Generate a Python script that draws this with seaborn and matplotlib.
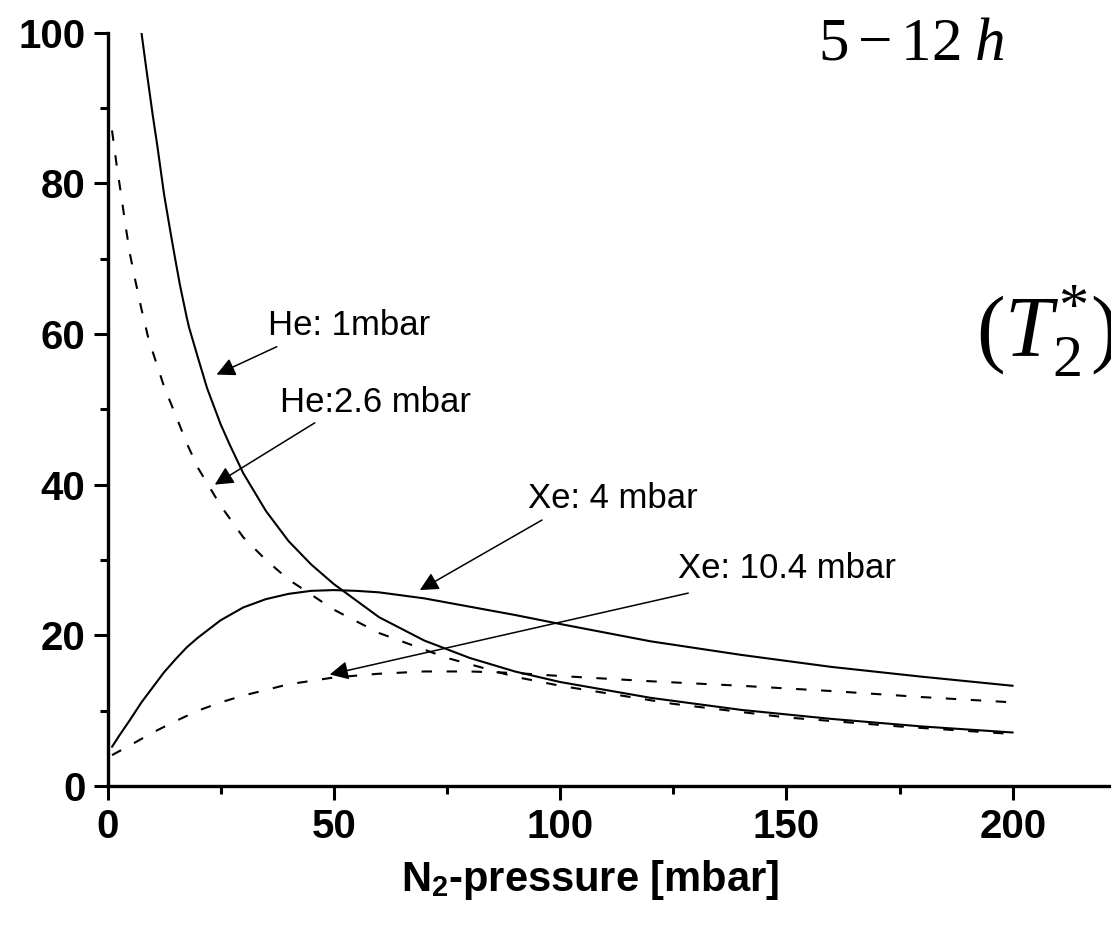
import numpy as np
import pandas as pd
import matplotlib
matplotlib.use("Agg")
import matplotlib.pyplot as plt
import seaborn as sns

# curves (x = N2 pressure in mbar)
he1_x = [7.5, 8.5, 10, 11, 12.5, 14, 15, 16, 17.5, 18, 20, 22, 25, 27, 30, 35, 40, 45, 50, 60, 70, 80, 90, 100, 120, 140, 160, 180, 200]
he1_y = [100, 95.5, 89, 85, 78.5, 73.2, 69.8, 66.5, 62.2, 60.9, 56.8, 52.8, 48.0, 45.3, 41.5, 36.5, 32.5, 29.4, 26.8, 22.4, 19.3, 17.0, 15.2, 13.8, 11.7, 10.1, 8.9, 7.9, 7.1]

he26_x = [1, 2, 3, 4, 5, 6, 7.5, 9, 10, 12.5, 15, 17.5, 20, 25, 30, 35, 40, 50, 60, 75, 90, 100, 125, 150, 175, 200]
he26_y = [87, 82.5, 78.5, 74.3, 70.5, 67.5, 63.3, 59.5, 57.6, 53, 49.3, 45.5, 42.2, 37.2, 33.0, 30.0, 27.4, 23.4, 20.3, 17.0, 14.5, 13.3, 10.9, 9.1, 7.9, 6.9]

xe4_x = [1, 2.5, 5, 7.5, 10, 12.5, 15, 17.5, 20, 25, 30, 35, 40, 45, 50, 55, 60, 70, 80, 90, 100, 120, 140, 160, 180, 200]
xe4_y = [5.2, 6.6, 8.8, 11.1, 13.1, 15.1, 16.8, 18.4, 19.7, 22.0, 23.7, 24.8, 25.5, 25.9, 26.0, 25.9, 25.7, 24.9, 23.8, 22.7, 21.5, 19.2, 17.4, 15.8, 14.5, 13.3]

xe104_x = [1, 5, 10, 15, 20, 25, 30, 40, 50, 60, 70, 80, 90, 100, 120, 140, 160, 180, 200]
xe104_y = [4.1, 5.4, 7.1, 8.6, 10.0, 11.1, 12.0, 13.5, 14.4, 14.9, 15.2, 15.2, 15.0, 14.6, 13.9, 13.3, 12.6, 11.8, 11.1]

# annotation labels: text, text anchor, arrow tail, arrow tip
labels = ["He: 1mbar", "He:2.6 mbar", "Xe: 4 mbar", "Xe: 10.4 mbar"]
label_pos = [(35.4, 59.9), (38.1, 49.7), (92.9, 36.9), (126.0, 27.6)]
arrow_tail = [(37.4, 58.3), (45.8, 48.2), (96.0, 35.3), (128.3, 25.6)]
arrow_tip = [(24.1, 54.6), (23.7, 40.0), (69.0, 26.0), (49.1, 14.8)]

x_ticks = [0, 50, 100, 150, 200]
y_ticks = [0, 20, 40, 60, 80, 100]

sns.set_theme(style="ticks")
plt.rcParams["font.family"] = ["Liberation Sans", "DejaVu Sans"]
plt.rcParams["mathtext.fontset"] = "custom"
plt.rcParams["mathtext.rm"] = "Liberation Serif"
plt.rcParams["mathtext.it"] = "Liberation Serif:italic"
plt.rcParams["mathtext.bf"] = "Liberation Sans:bold"
plt.rcParams["text.color"] = "black"
plt.rcParams["axes.labelcolor"] = "black"

W, H = 1111, 926
fig = plt.figure(figsize=(W / 100, H / 100), dpi=100)
ax = fig.add_axes([107.5 / W, 1 - 786 / H, 1 - 107.5 / W, (786 - 32.5) / H])

curves = [(he1_x, he1_y, "-"), (he26_x, he26_y, (0, (5, 7))),
          (xe4_x, xe4_y, "-"), (xe104_x, xe104_y, (0, (5, 7)))]
for cx, cy, ls in curves:
    df = pd.DataFrame({"p": cx, "v": cy})
    sns.lineplot(data=df, x="p", y="v", ax=ax, color="black", lw=1.5,
                 linestyle=ls, errorbar=None)

for txt, pos, tail, tip in zip(labels, label_pos, arrow_tail, arrow_tip):
    ax.text(pos[0], pos[1], txt, fontsize=25, va="baseline", ha="left", color="black")
    ax.annotate("", xy=tip, xytext=tail,
                arrowprops=dict(arrowstyle="-|>", color="black", lw=1.1,
                                mutation_scale=28, shrinkA=0, shrinkB=0))

ax.set_xlim(0, 221.7)
ax.set_ylim(0, 100)
ax.set_xticks(x_ticks)
ax.set_yticks(y_ticks)
ax.set_xticks([25, 75, 125, 175], minor=True)
ax.set_yticks([10, 30, 50, 70, 90], minor=True)
ax.set_xticklabels([str(t) for t in x_ticks], fontsize=29, fontweight="bold")
ax.set_yticklabels([str(t) for t in y_ticks], fontsize=29, fontweight="bold")
ax.tick_params(which="major", length=10, width=2.2, color="black", labelcolor="black", pad=6)
ax.tick_params(which="minor", length=5.5, width=2.2, color="black")
ax.set_xlabel(r"$\mathbf{N}_\mathbf{2}$-pressure [mbar]", fontsize=30,
              fontweight="bold", color="black")
ax.xaxis.set_label_coords((590 - 107.5) / (W - 107.5), -0.095)
ax.set_ylabel("")

sns.despine(ax=ax)
for side in ["left", "bottom"]:
    ax.spines[side].set_linewidth(2.4)
    ax.spines[side].set_color("black")
ax.set_facecolor("white")

fig.text(818 / W, 1 - 60 / H, r"$5-12\;h$", fontsize=44, va="baseline", ha="left", color="black")
fig.text(976 / W, 1 - 357 / H, r"$(T_2^{*})$", fontsize=62, va="baseline", ha="left", color="black")

fig.savefig("out.png", dpi=100, facecolor="white")
